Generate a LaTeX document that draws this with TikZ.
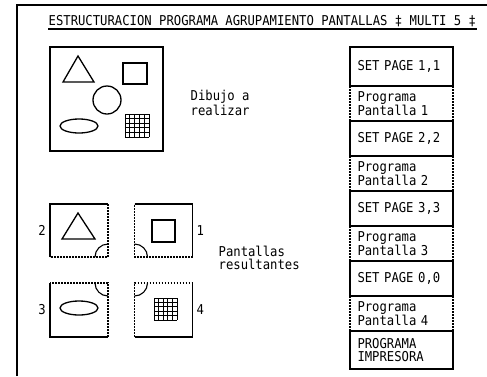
\documentclass[tikz,border=0pt]{standalone}
\usepackage{fontspec}
\newfontfamily\monofont[FakeStretch=0.9]{DejaVu Sans Mono}
\usetikzlibrary{positioning, shapes.geometric}

\begin{document}
\begin{tikzpicture}[
    x=1pt, y=-1pt,
    line width=1.3pt,
    node distance=0pt,
    txt/.style={font=\monofont\fontsize{13.6}{12.6}\selectfont, inner sep=0pt, align=left},
    setbox/.style={draw, txt, outer sep=0pt, minimum height=35pt, text width=88pt, inner xsep=7.5pt},
    progbox/.style={setbox, draw=none},
    dotline/.style={dash pattern=on 1.6pt off 1.4pt},
    panel/.style={minimum width=58pt, minimum height=53pt, inner sep=0pt, outer sep=0pt},
    quarter/.style={line width=1.1pt}
]
\useasboundingbox (0,0) rectangle (487,376);

% marco y titulo
\draw (17,376) -- (17,5) -- (487,5);
\node[txt, anchor=base west] (title) at (48,25) {ESTRUCTURACION PROGRAMA AGRUPAMIENTO PANTALLAS ‡ MULTI 5 ‡};
\draw[line width=1.7pt] ([yshift=-4pt]title.base west) -- ([yshift=-4pt]title.base east);

% dibujo completo
\node[draw, minimum width=113pt, minimum height=104pt, outer sep=0pt] (dibujo) at (106.5,99) {};
\draw (78,56) -- (94,82) -- (63,82) -- cycle;
\draw (123,63) rectangle (147,84);
\draw (107,100) circle (14pt);
\draw (79,126) ellipse [x radius=19pt, y radius=7pt];
\foreach \i in {0,...,5} {
    \draw[line width=0.8pt] (125+\i*4.8,114) -- (125+\i*4.8,137);
    \draw[line width=0.8pt] (125,114+\i*4.6) -- (149,114+\i*4.6);
}
\node[txt, anchor=west] (dibtxt) at (190,103) {Dibujo a\\realizar};

% pantallas resultantes
\node[panel] (p2) at (79,230.5) {};
\node[panel] (p1) at (163.5,230.5) {};
\node[panel, minimum height=54pt] (p3) at (79,310) {};
\node[panel, minimum height=54pt] (p4) at (163.5,310) {};

\draw (p2.south west) -- (p2.north west) -- (p2.north east);
\draw[dotline] (p2.north east) -- (p2.south east) -- (p2.south west);
\draw[quarter] ([yshift=13pt]p2.south east) arc[start angle=90, end angle=180, radius=13pt];
\draw (78,213) -- (95,239) -- (62,239) -- cycle;

\draw (p1.north west) -- (p1.north east) -- (p1.south east);
\draw[dotline] (p1.south east) -- (p1.south west) -- (p1.north west);
\draw[quarter] ([yshift=13pt]p1.south west) arc[start angle=90, end angle=0, radius=13pt];
\draw (152,220) rectangle (175,242);

\draw (p3.north west) -- (p3.south west) -- (p3.south east);
\draw[dotline] (p3.south east) -- (p3.north east) -- (p3.north west);
\draw[quarter] ([xshift=-13pt]p3.north east) arc[start angle=180, end angle=270, radius=13pt];
\draw (79,308) ellipse [x radius=19pt, y radius=7pt];

\draw (p4.north east) -- (p4.south east) -- (p4.south west);
\draw[dotline] (p4.south west) -- (p4.north west) -- (p4.north east);
\draw[quarter] ([xshift=13pt]p4.north west) arc[start angle=0, end angle=-90, radius=13pt];
\foreach \i in {0,...,5} {
    \draw[line width=0.8pt] (154+\i*4.6,298) -- (154+\i*4.6,320);
    \draw[line width=0.8pt] (154,298+\i*4.4) -- (177,298+\i*4.4);
}

\node[txt, left=3.5pt of p2] (lab2) {2};
\node[txt, right=3.5pt of p1] (lab1) {1};
\node[txt, left=3.5pt of p3] (lab3) {3};
\node[txt, right=3.5pt of p4] (lab4) {4};
\node[txt, anchor=west] (pantxt) at (218,258) {Pantallas\\resultantes};

% columna de programas
\node[setbox, minimum height=39pt] (sp1) at (401.5,66.5) {SET PAGE 1,1};
\node[progbox, below=of sp1] (pp1) {Programa\\Pantalla 1};
\node[setbox, below=of pp1] (sp2) {SET PAGE 2,2};
\node[progbox, below=of sp2] (pp2) {Programa\\Pantalla 2};
\node[setbox, below=of pp2] (sp3) {SET PAGE 3,3};
\node[progbox, below=of sp3] (pp3) {Programa\\Pantalla 3};
\node[setbox, below=of pp3] (sp4) {SET PAGE 0,0};
\node[progbox, below=of sp4] (pp4) {Programa\\Pantalla 4};
\node[setbox, below=of pp4, minimum height=38pt] (imp) {PROGRAMA\\IMPRESORA};

\foreach \n in {pp1,pp2,pp3,pp4} {
    \draw[dotline] (\n.north west) -- (\n.south west);
    \draw[dotline] (\n.north east) -- (\n.south east);
}
\end{tikzpicture}
\end{document}
